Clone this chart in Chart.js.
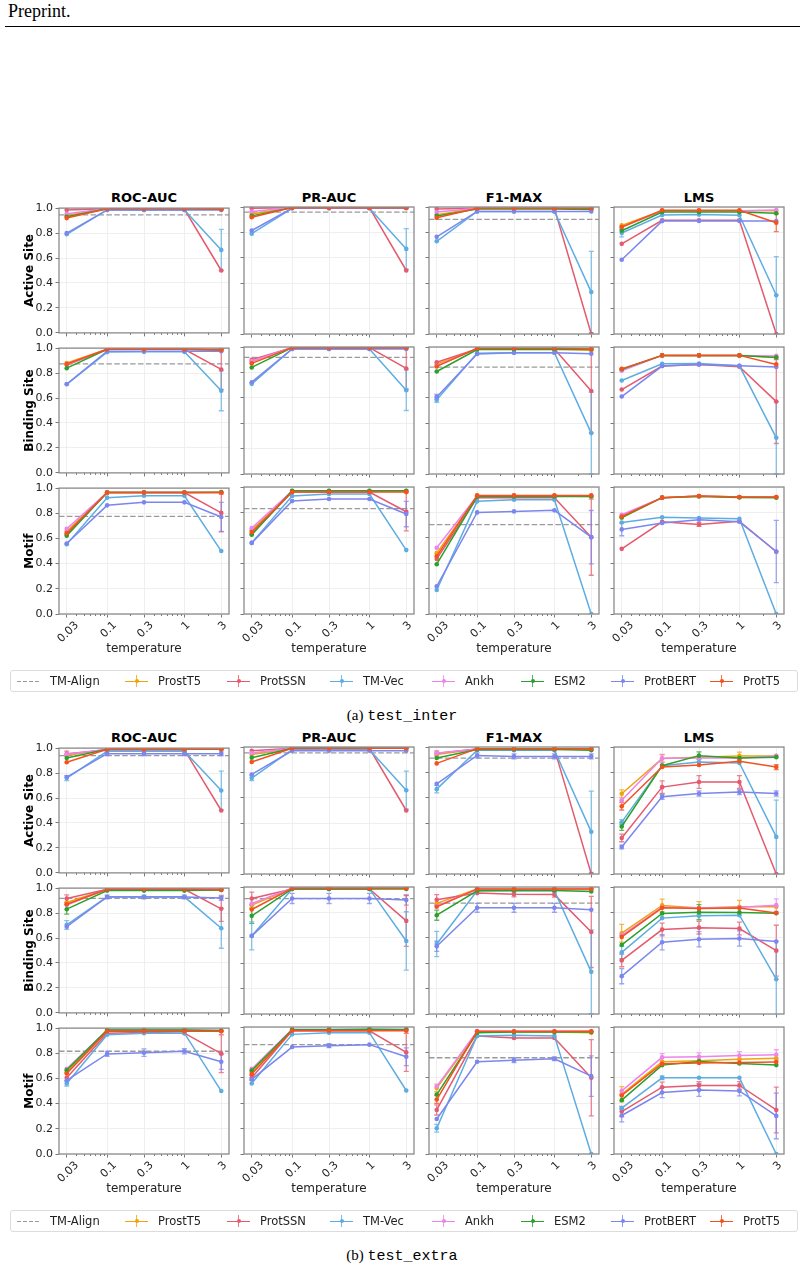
<!DOCTYPE html>
<html>
<head>
<meta charset="utf-8">
<script src="https://cdn.jsdelivr.net/npm/chart.js@4.4.1/dist/chart.umd.min.js"></script>
<style>
  body { margin: 0; width: 804px; height: 1270px; position: relative; overflow: hidden; background: #fff; font-family: "DejaVu Sans", sans-serif; }
  canvas { position: absolute; }
  .head { position: absolute; left: 8px; top: 1px; font: 18px "Liberation Serif", serif; color: #000; }
  .rule { position: absolute; left: 5px; top: 26px; width: 795px; border-top: 1.3px solid #000; }
  .coltitle { position: absolute; width: 170px; height: 18px; line-height: 18px; text-align: center; font: bold 13px "DejaVu Sans"; color: #000; }
  .legend { position: absolute; left: 10px; width: 788px; height: 22px; border: 1px solid #dcdcdc; border-radius: 3px; box-sizing: border-box; }
  .item { position: absolute; top: 0; height: 20px; line-height: 20px; font-size: 11.5px; color: #222; white-space: nowrap; }
  .icon { position: absolute; top: 4px; width: 23px; height: 12px; }
  .icon .h { position: absolute; left: 0; top: 5.5px; width: 23px; height: 1.5px; }
  .icon .v { position: absolute; left: 10.75px; top: 0; width: 1.5px; height: 12px; opacity: 0.8; }
  .icon .d { position: absolute; left: 9.5px; top: 4.25px; width: 4px; height: 4px; border-radius: 50%; }
  .icon .dash { position: absolute; left: 0; top: 5.5px; width: 23px; height: 1.3px; background: repeating-linear-gradient(90deg, #9a9a9a 0 4px, transparent 4px 6px); }
  .caption { position: absolute; left: 0; width: 804px; text-align: center; height: 20px; line-height: 20px; font: 15px "Liberation Serif", serif; color: #000; }
  .caption span { font-family: "Liberation Mono", monospace; }
</style>
</head>
<body>
<div class="head">Preprint.</div>
<div class="rule"></div>
<script>
const temps = [0.03, 0.1, 0.3, 1, 3];
const tempLabels = ['0.03', '0.1', '0.3', '1', '3'];
const models = ['ProstT5', 'ProtSSN', 'TM-Vec', 'Ankh', 'ESM2', 'ProtBERT', 'ProtT5'];
const modelColors = ['#f0a30a', '#e45a6e', '#5dade2', '#ec84ec', '#2ca02c', '#7b87ee', '#f4511e'];
const tasks = ['Active Site', 'Binding Site', 'Motif'];
const metrics = ['ROC-AUC', 'PR-AUC', 'F1-MAX', 'LMS'];

// ---- (a) test_inter : rows = ProstT5, ProtSSN, TM-Vec, Ankh, ESM2, ProtBERT, ProtT5
const interActiveRoc = [
  [0.94, 0.995, 0.995, 0.995, 0.99], [0.985, 0.995, 0.995, 0.99, 0.50], [0.79, 0.985, 0.985, 0.985, 0.665],
  [0.955, 0.995, 0.995, 0.995, 0.99], [0.93, 0.995, 0.995, 0.995, 0.99], [0.80, 0.985, 0.985, 0.985, 0.985],
  [0.92, 0.995, 0.995, 0.995, 0.99]];
const interActivePr = [
  [0.945, 0.995, 0.995, 0.995, 0.995], [0.99, 0.995, 0.995, 0.995, 0.50], [0.79, 0.99, 0.99, 0.99, 0.67],
  [0.965, 0.995, 0.995, 0.995, 0.995], [0.93, 0.995, 0.995, 0.995, 0.995], [0.815, 0.99, 0.99, 0.99, 0.99],
  [0.92, 0.995, 0.995, 0.995, 0.995]];
const interActiveF1 = [
  [0.94, 0.99, 0.99, 0.99, 0.985], [0.985, 0.99, 0.99, 0.99, 0.0], [0.73, 0.965, 0.965, 0.965, 0.33],
  [0.96, 0.99, 0.99, 0.99, 0.99], [0.93, 0.985, 0.985, 0.985, 0.98], [0.765, 0.965, 0.965, 0.965, 0.965],
  [0.915, 0.99, 0.99, 0.99, 0.99]];
const interActiveLms = [
  [0.855, 0.97, 0.97, 0.97, 0.97], [0.71, 0.895, 0.895, 0.895, 0.0], [0.795, 0.937, 0.94, 0.935, 0.305],
  [0.84, 0.97, 0.97, 0.97, 0.976], [0.813, 0.96, 0.96, 0.96, 0.95], [0.585, 0.889, 0.89, 0.89, 0.89],
  [0.842, 0.974, 0.974, 0.974, 0.876]];
const interBindingRoc = [
  [0.88, 0.99, 0.99, 0.99, 0.985], [0.865, 0.99, 0.99, 0.99, 0.829], [0.71, 0.968, 0.97, 0.97, 0.658],
  [0.87, 0.99, 0.99, 0.99, 0.99], [0.839, 0.99, 0.99, 0.99, 0.985], [0.712, 0.975, 0.975, 0.975, 0.975],
  [0.873, 0.99, 0.99, 0.99, 0.985]];
const interBindingPr = [
  [0.885, 0.995, 0.995, 0.995, 0.995], [0.90, 0.995, 0.995, 0.995, 0.831], [0.71, 0.984, 0.984, 0.984, 0.66],
  [0.89, 0.995, 0.995, 0.995, 0.995], [0.839, 0.995, 0.995, 0.995, 0.995], [0.723, 0.984, 0.984, 0.984, 0.984],
  [0.871, 0.995, 0.995, 0.995, 0.995]];
const interBindingF1 = [
  [0.865, 0.985, 0.985, 0.985, 0.975], [0.88, 0.985, 0.985, 0.985, 0.654], [0.585, 0.95, 0.955, 0.955, 0.322],
  [0.85, 0.985, 0.985, 0.985, 0.985], [0.807, 0.98, 0.98, 0.98, 0.98], [0.607, 0.945, 0.955, 0.955, 0.947],
  [0.847, 0.99, 0.99, 0.99, 0.985]];
const interBindingLms = [
  [0.82, 0.934, 0.934, 0.934, 0.92], [0.665, 0.85, 0.863, 0.845, 0.57], [0.736, 0.868, 0.87, 0.852, 0.285],
  [0.813, 0.934, 0.934, 0.934, 0.93], [0.825, 0.934, 0.934, 0.934, 0.918], [0.61, 0.85, 0.863, 0.852, 0.842],
  [0.828, 0.934, 0.934, 0.934, 0.863]];
const interMotifRoc = [
  [0.655, 0.965, 0.965, 0.965, 0.965], [0.63, 0.965, 0.965, 0.965, 0.803], [0.555, 0.924, 0.939, 0.939, 0.50],
  [0.676, 0.965, 0.965, 0.965, 0.965], [0.621, 0.965, 0.965, 0.965, 0.968], [0.56, 0.863, 0.887, 0.887, 0.771],
  [0.642, 0.965, 0.965, 0.965, 0.965]];
const interMotifPr = [
  [0.66, 0.968, 0.968, 0.968, 0.968], [0.63, 0.96, 0.96, 0.96, 0.805], [0.56, 0.929, 0.945, 0.945, 0.503],
  [0.676, 0.968, 0.968, 0.968, 0.968], [0.624, 0.97, 0.97, 0.97, 0.97], [0.56, 0.889, 0.905, 0.905, 0.787],
  [0.645, 0.96, 0.96, 0.96, 0.96]];
const interMotifF1 = [
  [0.479, 0.93, 0.93, 0.93, 0.925], [0.434, 0.915, 0.915, 0.915, 0.605], [0.189, 0.887, 0.90, 0.90, 0.0],
  [0.521, 0.93, 0.93, 0.93, 0.93], [0.392, 0.925, 0.925, 0.925, 0.925], [0.218, 0.80, 0.808, 0.816, 0.605],
  [0.455, 0.934, 0.934, 0.934, 0.934]];
const interMotifLms = [
  [0.76, 0.916, 0.929, 0.921, 0.921], [0.513, 0.726, 0.705, 0.73, 0.49], [0.721, 0.761, 0.755, 0.75, 0.0],
  [0.781, 0.916, 0.929, 0.921, 0.921], [0.76, 0.916, 0.925, 0.918, 0.915], [0.666, 0.716, 0.742, 0.726, 0.492],
  [0.768, 0.916, 0.929, 0.921, 0.921]];
// TM-Align baseline per task (ROC, PR, F1, LMS)
const interTmAlign = [[0.945, 0.96, 0.903, null], [0.873, 0.918, 0.842, null], [0.776, 0.829, 0.703, null]];
// error bars: [task, metric, model, temperature index, half width]
const interErrors = [
  [0, 0, 2, 4, 0.165], [0, 1, 2, 4, 0.16], [0, 2, 2, 4, 0.32], [0, 3, 2, 0, 0.03], [0, 3, 2, 4, 0.305], [0, 3, 6, 4, 0.07],
  [1, 0, 1, 4, 0.16], [1, 0, 2, 4, 0.16], [1, 1, 1, 4, 0.16], [1, 1, 2, 4, 0.16], [1, 2, 1, 4, 0.33], [1, 2, 2, 4, 0.322],
  [1, 2, 2, 0, 0.02], [1, 2, 5, 0, 0.02], [1, 3, 1, 4, 0.33], [1, 3, 2, 4, 0.285],
  [2, 0, 1, 4, 0.15], [2, 0, 5, 4, 0.115], [2, 1, 1, 4, 0.15], [2, 1, 5, 4, 0.10], [2, 2, 1, 4, 0.30], [2, 2, 5, 4, 0.21],
  [2, 3, 5, 0, 0.05], [2, 3, 5, 4, 0.245], [2, 3, 1, 2, 0.015]];

// ---- (b) test_extra
const extraActiveRoc = [
  [0.94, 0.99, 0.99, 0.99, 0.99], [0.955, 0.985, 0.985, 0.985, 0.50], [0.76, 0.974, 0.974, 0.974, 0.66],
  [0.95, 0.99, 0.99, 0.99, 0.99], [0.921, 0.99, 0.99, 0.99, 0.99], [0.768, 0.955, 0.955, 0.955, 0.955],
  [0.887, 0.99, 0.99, 0.99, 0.99]];
const extraActivePr = [
  [0.94, 0.99, 0.99, 0.99, 0.99], [0.971, 0.99, 0.99, 0.99, 0.50], [0.755, 0.979, 0.979, 0.979, 0.66],
  [0.953, 0.99, 0.99, 0.99, 0.99], [0.916, 0.99, 0.99, 0.99, 0.99], [0.784, 0.97, 0.97, 0.97, 0.97],
  [0.882, 0.99, 0.99, 0.99, 0.99]];
const extraActiveF1 = [
  [0.94, 0.985, 0.985, 0.985, 0.98], [0.95, 0.985, 0.985, 0.985, 0.0], [0.668, 0.975, 0.975, 0.975, 0.332],
  [0.95, 0.985, 0.985, 0.985, 0.985], [0.913, 0.98, 0.98, 0.98, 0.975], [0.71, 0.934, 0.926, 0.926, 0.926],
  [0.871, 0.987, 0.987, 0.987, 0.987]];
const extraActiveLms = [
  [0.632, 0.91, 0.92, 0.93, 0.93], [0.284, 0.684, 0.724, 0.724, 0.0], [0.408, 0.853, 0.882, 0.874, 0.292],
  [0.58, 0.911, 0.913, 0.913, 0.93], [0.374, 0.853, 0.932, 0.913, 0.92], [0.213, 0.608, 0.634, 0.645, 0.634],
  [0.534, 0.842, 0.858, 0.887, 0.842]];
const extraBindingRoc = [
  [0.884, 0.99, 0.99, 0.99, 0.985], [0.916, 0.99, 0.99, 0.99, 0.834], [0.705, 0.93, 0.93, 0.93, 0.678],
  [0.865, 0.992, 0.992, 0.992, 0.992], [0.831, 0.98, 0.98, 0.98, 0.985], [0.691, 0.929, 0.929, 0.929, 0.921],
  [0.871, 0.99, 0.99, 0.99, 0.987]];
const extraBindingPr = [
  [0.857, 0.99, 0.99, 0.99, 0.99], [0.91, 0.985, 0.985, 0.985, 0.733], [0.615, 0.985, 0.985, 0.985, 0.575],
  [0.87, 0.99, 0.99, 0.99, 0.99], [0.773, 0.985, 0.985, 0.985, 0.985], [0.615, 0.91, 0.91, 0.91, 0.897],
  [0.823, 0.99, 0.99, 0.99, 0.99]];
const extraBindingF1 = [
  [0.871, 0.985, 0.982, 0.985, 0.985], [0.90, 0.952, 0.942, 0.94, 0.646], [0.551, 0.97, 0.97, 0.97, 0.332],
  [0.85, 0.98, 0.975, 0.98, 0.98], [0.778, 0.97, 0.972, 0.972, 0.965], [0.533, 0.836, 0.836, 0.836, 0.82],
  [0.844, 0.985, 0.985, 0.985, 0.985]];
const extraBindingLms = [
  [0.636, 0.855, 0.835, 0.845, 0.845], [0.422, 0.665, 0.68, 0.673, 0.499], [0.485, 0.755, 0.773, 0.778, 0.274],
  [0.62, 0.84, 0.835, 0.84, 0.857], [0.544, 0.792, 0.802, 0.80, 0.794], [0.298, 0.565, 0.588, 0.594, 0.57],
  [0.607, 0.836, 0.83, 0.835, 0.795]];
const extraMotifRoc = [
  [0.65, 0.98, 0.98, 0.98, 0.975], [0.605, 0.96, 0.966, 0.96, 0.797], [0.56, 0.947, 0.96, 0.96, 0.50],
  [0.676, 0.984, 0.984, 0.984, 0.98], [0.666, 0.984, 0.984, 0.984, 0.98], [0.584, 0.795, 0.805, 0.816, 0.732],
  [0.639, 0.974, 0.974, 0.974, 0.974]];
const extraMotifPr = [
  [0.645, 0.979, 0.979, 0.979, 0.979], [0.60, 0.97, 0.97, 0.97, 0.80], [0.555, 0.942, 0.955, 0.955, 0.50],
  [0.67, 0.983, 0.983, 0.983, 0.983], [0.658, 0.979, 0.979, 0.983, 0.979], [0.587, 0.842, 0.853, 0.861, 0.766],
  [0.63, 0.97, 0.97, 0.97, 0.97]];
const extraMotifF1 = [
  [0.52, 0.96, 0.96, 0.96, 0.955], [0.347, 0.929, 0.913, 0.913, 0.60], [0.203, 0.93, 0.935, 0.93, 0.0],
  [0.532, 0.966, 0.966, 0.966, 0.966], [0.468, 0.955, 0.96, 0.96, 0.96], [0.276, 0.726, 0.739, 0.75, 0.613],
  [0.429, 0.966, 0.966, 0.966, 0.966]];
const extraMotifLms = [
  [0.47, 0.726, 0.735, 0.747, 0.753], [0.334, 0.526, 0.539, 0.54, 0.347], [0.361, 0.60, 0.60, 0.60, 0.0],
  [0.497, 0.761, 0.766, 0.776, 0.781], [0.424, 0.70, 0.729, 0.713, 0.70], [0.303, 0.484, 0.503, 0.497, 0.30],
  [0.461, 0.711, 0.716, 0.721, 0.725]];
const extraTmAlign = [[0.94, 0.953, 0.913, null], [0.918, 0.908, 0.873, null], [0.816, 0.861, 0.758, null]];
const extraErrors = [
  [0, 0, 1, 0, 0.02], [0, 0, 2, 0, 0.02], [0, 0, 5, 1, 0.015], [0, 0, 5, 2, 0.015], [0, 0, 5, 3, 0.015], [0, 0, 5, 4, 0.015], [0, 0, 2, 4, 0.155],
  [0, 1, 2, 0, 0.02], [0, 1, 2, 4, 0.15],
  [0, 2, 2, 0, 0.03], [0, 2, 1, 0, 0.02], [0, 2, 5, 1, 0.02], [0, 2, 5, 2, 0.02], [0, 2, 5, 3, 0.02], [0, 2, 5, 4, 0.02], [0, 2, 2, 4, 0.32],
  [0, 3, 0, 0, 0.03], [0, 3, 0, 1, 0.03], [0, 3, 0, 3, 0.03], [0, 3, 1, 0, 0.03], [0, 3, 1, 1, 0.05], [0, 3, 1, 2, 0.05], [0, 3, 1, 3, 0.05],
  [0, 3, 2, 0, 0.02], [0, 3, 2, 4, 0.29], [0, 3, 4, 0, 0.03], [0, 3, 4, 2, 0.03], [0, 3, 5, 0, 0.015], [0, 3, 5, 1, 0.02], [0, 3, 5, 2, 0.02],
  [0, 3, 5, 3, 0.02], [0, 3, 5, 4, 0.02], [0, 3, 6, 0, 0.03], [0, 3, 6, 4, 0.02], [0, 3, 3, 1, 0.03],
  [1, 0, 1, 0, 0.03], [1, 0, 4, 0, 0.04], [1, 0, 2, 0, 0.035], [1, 0, 5, 1, 0.015], [1, 0, 5, 2, 0.015], [1, 0, 5, 3, 0.015], [1, 0, 5, 4, 0.02],
  [1, 0, 2, 4, 0.16], [1, 0, 1, 4, 0.10],
  [1, 1, 1, 0, 0.05], [1, 1, 4, 0, 0.06], [1, 1, 2, 0, 0.11], [1, 1, 5, 1, 0.04], [1, 1, 5, 2, 0.04], [1, 1, 5, 3, 0.04], [1, 1, 5, 4, 0.04],
  [1, 1, 1, 4, 0.20], [1, 1, 2, 4, 0.23],
  [1, 2, 1, 0, 0.04], [1, 2, 4, 0, 0.04], [1, 2, 2, 0, 0.10], [1, 2, 5, 0, 0.04], [1, 2, 5, 1, 0.035], [1, 2, 5, 2, 0.035], [1, 2, 5, 3, 0.035],
  [1, 2, 1, 2, 0.02], [1, 2, 1, 3, 0.02], [1, 2, 1, 4, 0.28], [1, 2, 2, 4, 0.33],
  [1, 3, 0, 0, 0.07], [1, 3, 0, 1, 0.05], [1, 3, 0, 2, 0.05], [1, 3, 0, 3, 0.05], [1, 3, 3, 4, 0.05], [1, 3, 1, 0, 0.05], [1, 3, 1, 1, 0.05],
  [1, 3, 1, 2, 0.05], [1, 3, 1, 3, 0.05], [1, 3, 1, 4, 0.20], [1, 3, 5, 0, 0.06], [1, 3, 5, 1, 0.06], [1, 3, 5, 2, 0.06], [1, 3, 5, 3, 0.06],
  [1, 3, 2, 4, 0.30], [1, 3, 4, 2, 0.06], [1, 3, 2, 0, 0.05],
  [2, 0, 5, 1, 0.02], [2, 0, 5, 2, 0.03], [2, 0, 5, 3, 0.02], [2, 0, 1, 4, 0.15], [2, 0, 5, 4, 0.06], [2, 0, 2, 0, 0.02],
  [2, 1, 1, 4, 0.15], [2, 1, 5, 4, 0.07], [2, 1, 5, 2, 0.015], [2, 1, 1, 0, 0.02],
  [2, 2, 5, 2, 0.02], [2, 2, 5, 3, 0.015], [2, 2, 1, 4, 0.30], [2, 2, 5, 4, 0.16], [2, 2, 2, 0, 0.03], [2, 2, 6, 0, 0.03], [2, 2, 1, 0, 0.04], [2, 2, 0, 0, 0.03],
  [2, 3, 3, 1, 0.03], [2, 3, 3, 2, 0.03], [2, 3, 3, 3, 0.03], [2, 3, 3, 4, 0.04], [2, 3, 0, 0, 0.06], [2, 3, 1, 0, 0.04], [2, 3, 1, 1, 0.04],
  [2, 3, 1, 2, 0.03], [2, 3, 1, 3, 0.03], [2, 3, 5, 0, 0.05], [2, 3, 5, 1, 0.04], [2, 3, 5, 2, 0.05], [2, 3, 5, 3, 0.04], [2, 3, 2, 1, 0.015],
  [2, 3, 1, 4, 0.18], [2, 3, 5, 4, 0.18]];

const panels = [
  { name: '(a)', code: 'test_inter', offset: 0, tm: interTmAlign, errors: interErrors, grid: [
    [interActiveRoc, interActivePr, interActiveF1, interActiveLms],
    [interBindingRoc, interBindingPr, interBindingF1, interBindingLms],
    [interMotifRoc, interMotifPr, interMotifF1, interMotifLms]] },
  { name: '(b)', code: 'test_extra', offset: 540, tm: extraTmAlign, errors: extraErrors, grid: [
    [extraActiveRoc, extraActivePr, extraActiveF1, extraActiveLms],
    [extraBindingRoc, extraBindingPr, extraBindingF1, extraBindingLms],
    [extraMotifRoc, extraMotifPr, extraMotifF1, extraMotifLms]] }
];

// layout of the subplot grid
const colLeft = [59, 244, 429, 614];
const rowTop = [207, 347, 487];
const plotW = 170, plotH = 127;
const xMin = temps[0] / Math.pow(10, 0.1), xMax = temps[4] * Math.pow(10, 0.1);
const minorTicks = [];
[0.01, 0.1, 1].forEach(d => { for (let k = 2; k < 10; k++) { const v = k * d; if (v > xMin && v < xMax && !temps.some(t => Math.abs(t - v) < 1e-9)) minorTicks.push(v); } });

Chart.defaults.font.family = '"DejaVu Sans", sans-serif';
Chart.defaults.color = '#222';

const tmAlignPlugin = {
  id: 'tmAlign',
  beforeDatasetsDraw(chart, args, opts) {
    if (opts.value == null) return;
    const { ctx, chartArea: a, scales: { y } } = chart;
    const py = y.getPixelForValue(opts.value);
    ctx.save();
    ctx.strokeStyle = '#9a9a9a'; ctx.lineWidth = 1.3; ctx.setLineDash([5.5, 2.4]);
    ctx.beginPath(); ctx.moveTo(a.left, py); ctx.lineTo(a.right, py); ctx.stroke();
    ctx.restore();
  }
};

const errorBarPlugin = {
  id: 'errorBars',
  beforeDatasetsDraw(chart, args, opts) {
    const { ctx, chartArea: a, scales: { x, y } } = chart;
    ctx.save();
    ctx.beginPath(); ctx.rect(a.left, a.top - 1, a.width, a.height + 2); ctx.clip();
    (opts.items || []).forEach(([s, k, half]) => {
      const ds = chart.data.datasets[s];
      const pt = ds.data[k];
      const px = x.getPixelForValue(pt.x);
      const y1 = y.getPixelForValue(pt.y - half), y2 = y.getPixelForValue(pt.y + half);
      ctx.strokeStyle = ds.borderColor; ctx.globalAlpha = 0.75; ctx.lineWidth = 1.3;
      ctx.beginPath();
      ctx.moveTo(px, y1); ctx.lineTo(px, y2);
      ctx.moveTo(px - 2.5, y1); ctx.lineTo(px + 2.5, y1);
      ctx.moveTo(px - 2.5, y2); ctx.lineTo(px + 2.5, y2);
      ctx.stroke();
    });
    ctx.restore();
  }
};

const framePlugin = {
  id: 'frame',
  afterDatasetsDraw(chart) {
    const { ctx, chartArea: a, scales: { x } } = chart;
    ctx.save();
    ctx.strokeStyle = '#555'; ctx.lineWidth = 0.8;
    minorTicks.forEach(v => {
      const px = Math.round(x.getPixelForValue(v)) + 0.5;
      ctx.beginPath(); ctx.moveTo(px, a.bottom); ctx.lineTo(px, a.bottom + 2); ctx.stroke();
    });
    ctx.strokeStyle = '#8c8c8c'; ctx.lineWidth = 1.3;
    ctx.strokeRect(a.left, a.top, a.width, a.height);
    ctx.restore();
  }
};

// rotated temperature labels, centred under their ticks like matplotlib's rotation=45
const xLabelPlugin = {
  id: 'xLabels',
  afterDraw(chart, args, opts) {
    if (!opts.show) return;
    const { ctx, chartArea: a, scales: { x } } = chart;
    ctx.save();
    ctx.font = '11px "DejaVu Sans", sans-serif';
    ctx.fillStyle = '#222';
    ctx.textAlign = 'right';
    ctx.textBaseline = 'middle';
    temps.forEach((t, i) => {
      const w = ctx.measureText(tempLabels[i]).width;
      ctx.save();
      ctx.translate(x.getPixelForValue(t) + 0.354 * w + 1.5, a.bottom + 9.5);
      ctx.rotate(-Math.PI / 4);
      ctx.fillText(tempLabels[i], 0, 0);
      ctx.restore();
    });
    ctx.restore();
  }
};

function makeChart(panel, r, c) {
  const ml = c === 0 ? 59 : 8, mr = 14, mt = 8, mb = r === 2 ? 50 : 8;
  const cv = document.createElement('canvas');
  cv.width = ml + plotW + mr;
  cv.height = mt + plotH + mb;
  cv.style.left = (colLeft[c] - ml) + 'px';
  cv.style.top = (rowTop[r] + panel.offset - mt) + 'px';
  document.body.appendChild(cv);

  const datasets = panel.grid[r][c].map((vals, i) => ({
    label: models[i],
    data: vals.map((v, k) => ({ x: temps[k], y: v })),
    borderColor: modelColors[i],
    backgroundColor: modelColors[i],
    borderWidth: 1.5,
    pointRadius: 2.3,
    pointBorderWidth: 0,
    pointHoverRadius: 2.3,
    order: models.length - i
  }));
  const errs = panel.errors.filter(e => e[0] === r && e[1] === c).map(e => e.slice(2));

  new Chart(cv, {
    type: 'line',
    data: { datasets },
    plugins: [tmAlignPlugin, errorBarPlugin, framePlugin, xLabelPlugin],
    options: {
      responsive: false,
      devicePixelRatio: 1,
      animation: false,
      events: [],
      layout: { padding: { left: 0, right: mr, top: mt, bottom: 0 } },
      plugins: {
        legend: { display: false },
        tooltip: { enabled: false },
        tmAlign: { value: panel.tm[r][c] },
        errorBars: { items: errs },
        xLabels: { show: r === 2 }
      },
      scales: {
        x: {
          type: 'logarithmic',
          min: xMin,
          max: xMax,
          afterBuildTicks: s => { s.ticks = temps.map(v => ({ value: v })); },
          afterFit: s => { s.height = mb; },
          ticks: { display: false, autoSkip: false },
          grid: { color: '#ebebeb', lineWidth: 0.8, tickColor: '#555', tickLength: 3.5 },
          border: { display: false },
          title: { display: r === 2, text: 'temperature', font: { size: 12 }, color: '#222', padding: { top: 0, bottom: 8 } }
        },
        y: {
          min: 0,
          max: 1,
          afterFit: s => { s.width = ml; },
          ticks: {
            display: c === 0,
            stepSize: 0.2,
            padding: 2.5,
            font: { size: 11 },
            color: '#222',
            callback: v => v.toFixed(1)
          },
          grid: { color: '#ebebeb', lineWidth: 0.8, tickColor: '#555', tickLength: 3.5 },
          border: { display: false },
          title: { display: c === 0, text: tasks[r], font: { size: 12, weight: 'bold' }, color: '#000', padding: { top: 23, bottom: 0 } }
        }
      }
    }
  });
}

const legendTextLeft = [49, 157, 259, 362, 464, 553, 643, 742];

panels.forEach(panel => {
  metrics.forEach((m, c) => {
    const t = document.createElement('div');
    t.className = 'coltitle';
    t.textContent = m;
    t.style.left = colLeft[c] + 'px';
    t.style.top = (rowTop[0] + panel.offset - 17) + 'px';
    document.body.appendChild(t);
  });
  for (let r = 0; r < tasks.length; r++) {
    for (let c = 0; c < metrics.length; c++) makeChart(panel, r, c);
  }

  // legend
  const lg = document.createElement('div');
  lg.className = 'legend';
  lg.style.top = (670 + panel.offset) + 'px';
  const names = ['TM-Align'].concat(models);
  names.forEach((n, i) => {
    const icon = document.createElement('div');
    icon.className = 'icon';
    icon.style.left = (legendTextLeft[i] - 33 - 10) + 'px';
    if (i === 0) {
      icon.innerHTML = '<div class="dash"></div>';
    } else {
      const col = modelColors[i - 1];
      icon.innerHTML = '<div class="h" style="background:' + col + '"></div><div class="v" style="background:' + col + '"></div><div class="d" style="background:' + col + '"></div>';
    }
    lg.appendChild(icon);
    const txt = document.createElement('div');
    txt.className = 'item';
    txt.style.left = (legendTextLeft[i] - 10) + 'px';
    txt.textContent = n;
    lg.appendChild(txt);
  });
  document.body.appendChild(lg);

  const cap = document.createElement('div');
  cap.className = 'caption';
  cap.style.top = (707 + panel.offset) + 'px';
  cap.innerHTML = panel.name + ' <span>' + panel.code + '</span>';
  document.body.appendChild(cap);
});
</script>
</body>
</html>
